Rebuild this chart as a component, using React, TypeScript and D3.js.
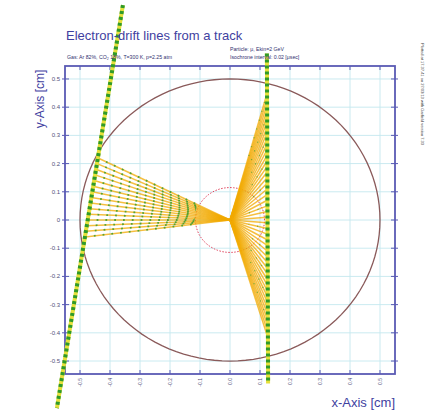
import React from "react";
import * as d3 from "d3";

// axis ticks (cm)
const xTicks = [-0.5, -0.4, -0.3, -0.2, -0.1, 0, 0.1, 0.2, 0.3, 0.4, 0.5];
const yTicks = [0.5, 0.4, 0.3, 0.2, 0.1, 0, -0.1, -0.2, -0.3, -0.4, -0.5];

// the two muon tracks, end points [x, y] in cm
const leftTrack: [number, number][] = [[-0.357, 0.762], [-0.577, -0.667]];
const rightTrack: [number, number][] = [[0.123, 0.59], [0.127, -0.58]];

// drift line start points on the left track
const leftStarts: [number, number][] = [
  [-0.44, 0.22], [-0.443, 0.2], [-0.447, 0.18], [-0.45, 0.16], [-0.453, 0.14],
  [-0.456, 0.12], [-0.459, 0.1], [-0.462, 0.08], [-0.465, 0.06], [-0.468, 0.04],
  [-0.471, 0.02], [-0.474, 0.0], [-0.477, -0.02], [-0.48, -0.04], [-0.483, -0.06],
];

// drift line start heights on the right track (x = 0.124)
const rightX = 0.124;
const rightStartsY = [
  0.45, 0.43, 0.41, 0.39, 0.37, 0.35, 0.33, 0.31, 0.29, 0.27, 0.25, 0.23, 0.21,
  0.19, 0.17, 0.15, 0.13, 0.11, 0.09, 0.07, 0.05, 0.03, 0.01, -0.01, -0.03,
  -0.05, -0.07, -0.09, -0.11, -0.13, -0.15, -0.17, -0.19, -0.21, -0.23, -0.25,
  -0.27, -0.29, -0.31, -0.33, -0.35, -0.37, -0.39, -0.41,
];

const wire: [number, number] = [0, 0];
const tubeRadius = 0.5;
const innerRadius = 0.115;

const blue = "#3f3f9f";
const orange = "#f2a900";
const green = "#2f9a2a";
const yellow = "#e6e03a";

export default function App() {
  const x = d3.scaleLinear().domain([-0.55, 0.55]).range([65, 395]);
  const y = d3.scaleLinear().domain([-0.546, 0.546]).range([374, 66]);
  const line = d3.line<[number, number]>().x((d) => x(d[0])).y((d) => y(d[1]));

  const circle = (r: number) =>
    line(d3.range(0, 361, 3).map((a) => [r * Math.cos((a * Math.PI) / 180), r * Math.sin((a * Math.PI) / 180)] as [number, number]));

  const drifts: [number, number][] = [...leftStarts, ...rightStartsY.map((v) => [rightX, v] as [number, number])];

  const track = (pts: [number, number][], key: string) => (
    <g key={key}>
      <path d={line(pts)!} stroke={yellow} strokeWidth={4} fill="none" />
      <path d={line(pts)!} stroke={green} strokeWidth={4} strokeDasharray="3 3" fill="none" />
    </g>
  );

  return (
    <div style={{ position: "absolute", left: 0, top: 0 }}>
      <svg width={436} height={414} style={{ display: "block", background: "#fff" }} fontFamily="Liberation Sans, Arial, sans-serif">
        {/* grid */}
        {xTicks.map((t) => (
          <line key={"gx" + t} x1={x(t)} x2={x(t)} y1={y.range()[0]} y2={y.range()[1]} stroke="#c4e8ee" strokeWidth={0.9} />
        ))}
        {yTicks.map((t) => (
          <line key={"gy" + t} y1={y(t)} y2={y(t)} x1={x.range()[0]} x2={x.range()[1]} stroke="#c4e8ee" strokeWidth={0.9} />
        ))}

        {/* tube wall and inner dashed circle */}
        <path d={circle(tubeRadius)!} fill="none" stroke="#8a5a5a" strokeWidth={1.3} />
        <path d={circle(innerRadius)!} fill="none" stroke="#e0405a" strokeWidth={1} strokeDasharray="1.5 1.5" />

        {/* drift lines */}
        {drifts.map((p, i) => (
          <path key={"d" + i} d={line([p, wire])!} stroke={orange} strokeWidth={1.5} strokeOpacity={0.75} fill="none" />
        ))}
        {/* isochrone markers near the track */}
        {leftStarts.map((p, i) => (
          <path key={"iso" + i} d={line([p, [p[0] * 0.25, p[1] * 0.25]])!} stroke={green} strokeWidth={1.8} strokeDasharray="1.8 7" fill="none" strokeOpacity={0.8} />
        ))}
        {rightStartsY.filter((_, i) => i % 4 === 0).map((v, i) => (
          <path key={"isr" + i} d={line([[rightX, v], [rightX * 0.5, v * 0.5]])!} stroke={green} strokeWidth={1.2} strokeDasharray="1.2 8" fill="none" strokeOpacity={0.6} />
        ))}

        {/* frame */}
        <rect x={65} y={66} width={330} height={308} fill="none" stroke="#5a5ab4" strokeWidth={1.8} />
        {xTicks.map((t) => (
          <g key={"tx" + t} stroke="#5a5ab4" strokeWidth={1}>
            <line x1={x(t)} x2={x(t)} y1={374} y2={370} />
            <line x1={x(t)} x2={x(t)} y1={66} y2={70} />
          </g>
        ))}
        {yTicks.map((t) => (
          <g key={"ty" + t} stroke="#5a5ab4" strokeWidth={1}>
            <line y1={y(t)} y2={y(t)} x1={62} x2={69} />
            <line y1={y(t)} y2={y(t)} x1={391} x2={398} />
          </g>
        ))}

        {/* tick labels */}
        {yTicks.map((t) => (
          <text key={"ly" + t} x={60} y={y(t) + 2} fontSize={6} textAnchor="end" fill="#50507a">
            {t === 0 ? "0" : t.toFixed(1)}
          </text>
        ))}
        {xTicks.map((t) => (
          <text key={"lx" + t} transform={`translate(${x(t) + 2},${378}) rotate(-90)`} fontSize={5} textAnchor="end" fill="#50507a">
            {t === 0 ? "0.0" : t.toFixed(1)}
          </text>
        ))}

        {/* tracks */}
        {track(leftTrack, "lt")}
        {track(rightTrack, "rt")}

        {/* titles */}
        <text x={66} y={40} fontSize={13} fill={blue}>Electron-drift lines from a track</text>
        <text x={67} y={59} fontSize={5.2} fill="#303070">Gas: Ar 82%, CO₂ 18%, T=300 K, p=2.25 atm</text>
        <text x={230} y={51} fontSize={5.2} fill="#303070">Particle: μ, Ekin=2 GeV</text>
        <text x={230} y={59} fontSize={5.2} fill="#303070">Isochrone interval: 0.02 [μsec]</text>
        <text transform="translate(421,43) rotate(90)" fontSize={4} fill="#404040">Plotted at 17.37.41 on 27/03/13 with Garfield version 7.33</text>
        <text transform="translate(44,99) rotate(-90)" fontSize={12} textAnchor="middle" fill={blue}>y-Axis [cm]</text>
        <text x={395} y={407} fontSize={13} textAnchor="end" fill={blue}>x-Axis [cm]</text>
      </svg>
    </div>
  );
}
